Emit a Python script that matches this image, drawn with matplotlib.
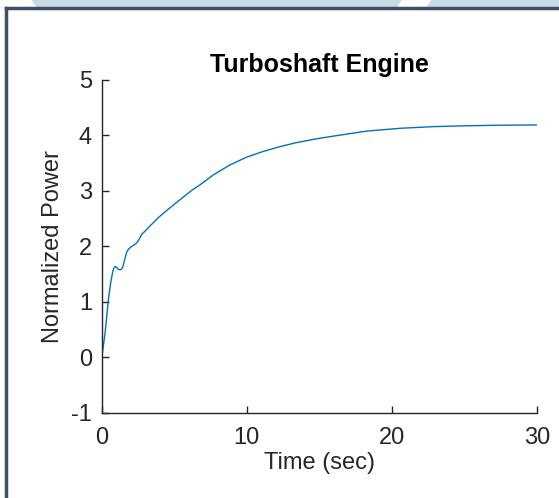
"""
Turboshaft engine power response
"""
import matplotlib.pyplot as plt
from matplotlib.patches import Polygon, Rectangle
from matplotlib.lines import Line2D

# values
time_sec = [0, 0.23, 0.46, 0.6, 0.69, 0.77, 0.85, 0.94, 1.03, 1.15, 1.26, 1.36, 1.45,
            1.58, 1.72, 1.84, 2.0, 2.18, 2.35, 2.52, 2.64, 2.76, 3.0, 3.33, 3.9, 4.48,
            5.05, 5.62, 6.2, 6.77, 7.69, 8.84, 9.99, 11.1, 12.3, 13.4, 14.8, 16.0,
            18.3, 20.6, 22.9, 25.2, 27.4, 30]
power = [0, 0.44, 1.04, 1.32, 1.45, 1.56, 1.62, 1.64, 1.62, 1.59, 1.58, 1.59, 1.63,
         1.76, 1.9, 1.95, 1.99, 2.02, 2.05, 2.1, 2.16, 2.22, 2.28, 2.37, 2.52, 2.65,
         2.77, 2.89, 3.01, 3.11, 3.29, 3.47, 3.61, 3.71, 3.8, 3.87, 3.94, 3.99,
         4.08, 4.13, 4.16, 4.175, 4.185, 4.19]
x_ticks = [0, 10, 20, 30]
y_ticks = [-1, 0, 1, 2, 3, 4, 5]

plt.rcParams['font.family'] = ['Liberation Sans', 'DejaVu Sans']
plt.rcParams['axes.unicode_minus'] = False
dark = '#262626'

fig = plt.figure(figsize=(5.59, 4.98), dpi=100)

# window frame around the screenshot
fig.patches.append(Rectangle((0, 0.986), 1, 0.014, transform=fig.transFigure,
                             color='#c9d9e6', zorder=0))
fig.patches.append(Polygon([(0, 0.986), (0.063, 0.986), (0.055, 1), (0, 1)],
                           transform=fig.transFigure, color='white', zorder=1))
fig.patches.append(Polygon([(0.712, 0.986), (0.762, 0.986), (0.77, 1), (0.72, 1)],
                           transform=fig.transFigure, color='white', zorder=1))
fig.lines.append(Line2D([0.0107, 1], [0.984, 0.984], transform=fig.transFigure,
                        color='#3e5069', lw=2.5))
fig.lines.append(Line2D([0.0107, 0.0107], [0, 0.984], transform=fig.transFigure,
                        color='#3e5069', lw=2.5))

ax = fig.add_axes([0.182, 0.1707, 0.7786, 0.6687])
ax.plot(time_sec, power, color='#0072BD', lw=1.0)

ax.set_xlim(0, 30)
ax.set_ylim(-1, 5)
ax.set_xticks(x_ticks)
ax.set_yticks(y_ticks)
ax.spines['top'].set_visible(False)
ax.spines['right'].set_visible(False)
for s in ['left', 'bottom']:
    ax.spines[s].set_color(dark)
    ax.spines[s].set_linewidth(1.0)
ax.tick_params(direction='in', length=5, width=1, colors=dark, labelsize=17)
ax.tick_params(axis='x', pad=10)
ax.tick_params(axis='y', pad=7)

ax.set_title('Turboshaft Engine', fontsize=18, fontweight='bold', color='black', pad=6)
ax.set_xlabel('Time (sec)', fontsize=17, color=dark, labelpad=2)
ax.set_ylabel('Normalized Power', fontsize=17, color=dark, labelpad=5)

plt.savefig('out.png')
